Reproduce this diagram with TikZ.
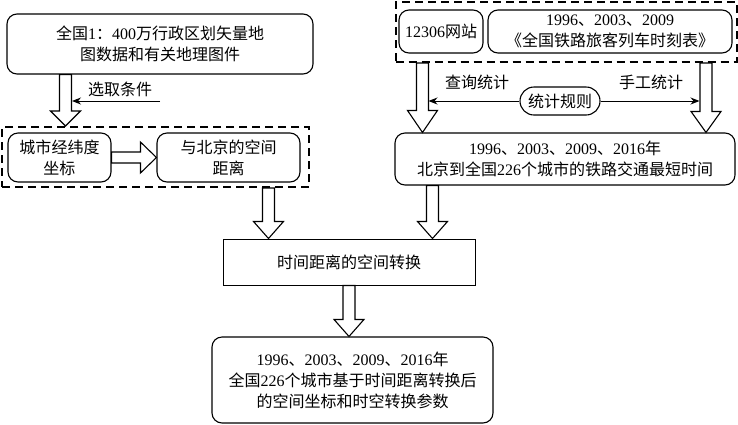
\documentclass[tikz,border=0pt]{standalone}
\usepackage{fontspec}
\setmainfont{Liberation Serif}
\newfontfamily\cjk{Noto Sans CJK SC}
\newcommand\C[1]{{\cjk #1}}
\usetikzlibrary{calc,arrows.meta}
\newcommand\varr[4]{%
  \draw[blk] let \p1=(#2), \p2=(#3) in
    (#1pt-6pt,\y1) -- (#1pt+6pt,\y1) -- (#1pt+6pt,\y2+#4pt) -- (#1pt+15pt,\y2+#4pt)
    -- (#1pt,\y2) -- (#1pt-15pt,\y2+#4pt) -- (#1pt-6pt,\y2+#4pt) -- cycle;}
\begin{document}
\begin{tikzpicture}[x=1pt,y=1pt,
  txt/.style={font=\fontsize{16}{21}\selectfont,align=center,inner sep=0pt},
  box/.style={txt,draw,line width=1.1pt,rounded corners=10pt,fill=white},
  sqbox/.style={txt,draw,line width=1pt,fill=white},
  dashbox/.style={draw,line width=2pt,dash pattern=on 8pt off 5pt},
  blk/.style={draw,line width=1.1pt,fill=white,line join=miter},
  thinarr/.style={draw,line width=1pt,-{Stealth[length=9pt,width=7pt]}}]
\useasboundingbox (0,0) rectangle (738,-424);
% dashed groups
\node[dashbox,minimum width=307pt,minimum height=60pt] (DL) at (155.5,-157) {};
\node[dashbox,minimum width=341pt,minimum height=60pt] (DR) at (566,-32) {};
% boxes
\node[box,minimum width=306pt,minimum height=60pt] (A) at (160,-44)
  {\C{全国}1\C{：}400\C{万行政区划矢量地}\\\C{图数据和有关地理图件}};
\node[box,minimum width=103pt,minimum height=49pt] (B) at (59.5,-157.5)
  {\C{城市经纬度}\\\C{坐标}};
\node[box,minimum width=143pt,minimum height=49pt] (C) at (228.5,-157.5)
  {\C{与北京的空间}\\\C{距离}};
\node[box,minimum width=84pt,minimum height=43pt] (D) at (441,-31.5)
  {12306\C{网站}};
\node[box,minimum width=244pt,minimum height=43pt] (E) at (610,-31.5)
  {1996\C{、}2003\C{、}2009\\\C{《全国铁路旅客列车时刻表》}};
\node[box,minimum width=340pt,minimum height=52pt] (G) at (565,-159)
  {1996\C{、}2003\C{、}2009\C{、}2016\C{年}\\\C{北京到全国}226\C{个城市的铁路交通最短时间}};
\node[sqbox,minimum width=252pt,minimum height=46pt] (H) at (349,-262)
  {\C{时间距离的空间转换}};
\node[box,minimum width=281pt,minimum height=86pt] (I) at (352.5,-380)
  {1996\C{、}2003\C{、}2009\C{、}2016\C{年}\\\C{全国}226\C{个城市基于时间距离转换后}\\\C{的空间坐标和时空转换参数}};
% block arrows
\varr{65.5}{A.south}{DL.north}{15}
\draw[blk] let \p1=(B.east), \p2=(C.west) in
  (\x1,\y1+5.5pt) -- (\x2-16pt,\y1+5.5pt) -- (\x2-16pt,\y1+15.5pt) -- (\x2,\y1)
  -- (\x2-16pt,\y1-15.5pt) -- (\x2-16pt,\y1-5.5pt) -- (\x1,\y1-5.5pt) -- cycle;
\varr{422.5}{DR.south}{G.north}{22}
\varr{706}{DR.south}{G.north}{21}
\varr{268.5}{DL.south}{H.north}{17}
\varr{432.5}{G.south}{H.north}{17}
\varr{349}{H.south}{I.north}{17}
% thin arrows and labels
\coordinate (s0) at (160,-101);
\coordinate (s1) at (72,-101);
\draw[thinarr] (s0) -- (s1);
\node[txt] (L1) at (120,-89) {\C{选取条件}};
\node[box,rounded corners=14pt,minimum width=80pt,minimum height=28pt] (F) at (560,-101) {\C{统计规则}};
\coordinate (t0) at (428.5,-101);
\coordinate (t1) at (699.5,-101);
\draw[thinarr] (F.west) -- (t0);
\draw[thinarr] (F.east) -- (t1);
\node[txt] (L2) at (477,-82) {\C{查询统计}};
\node[txt] (L3) at (651,-82) {\C{手工统计}};
\end{tikzpicture}
\end{document}
